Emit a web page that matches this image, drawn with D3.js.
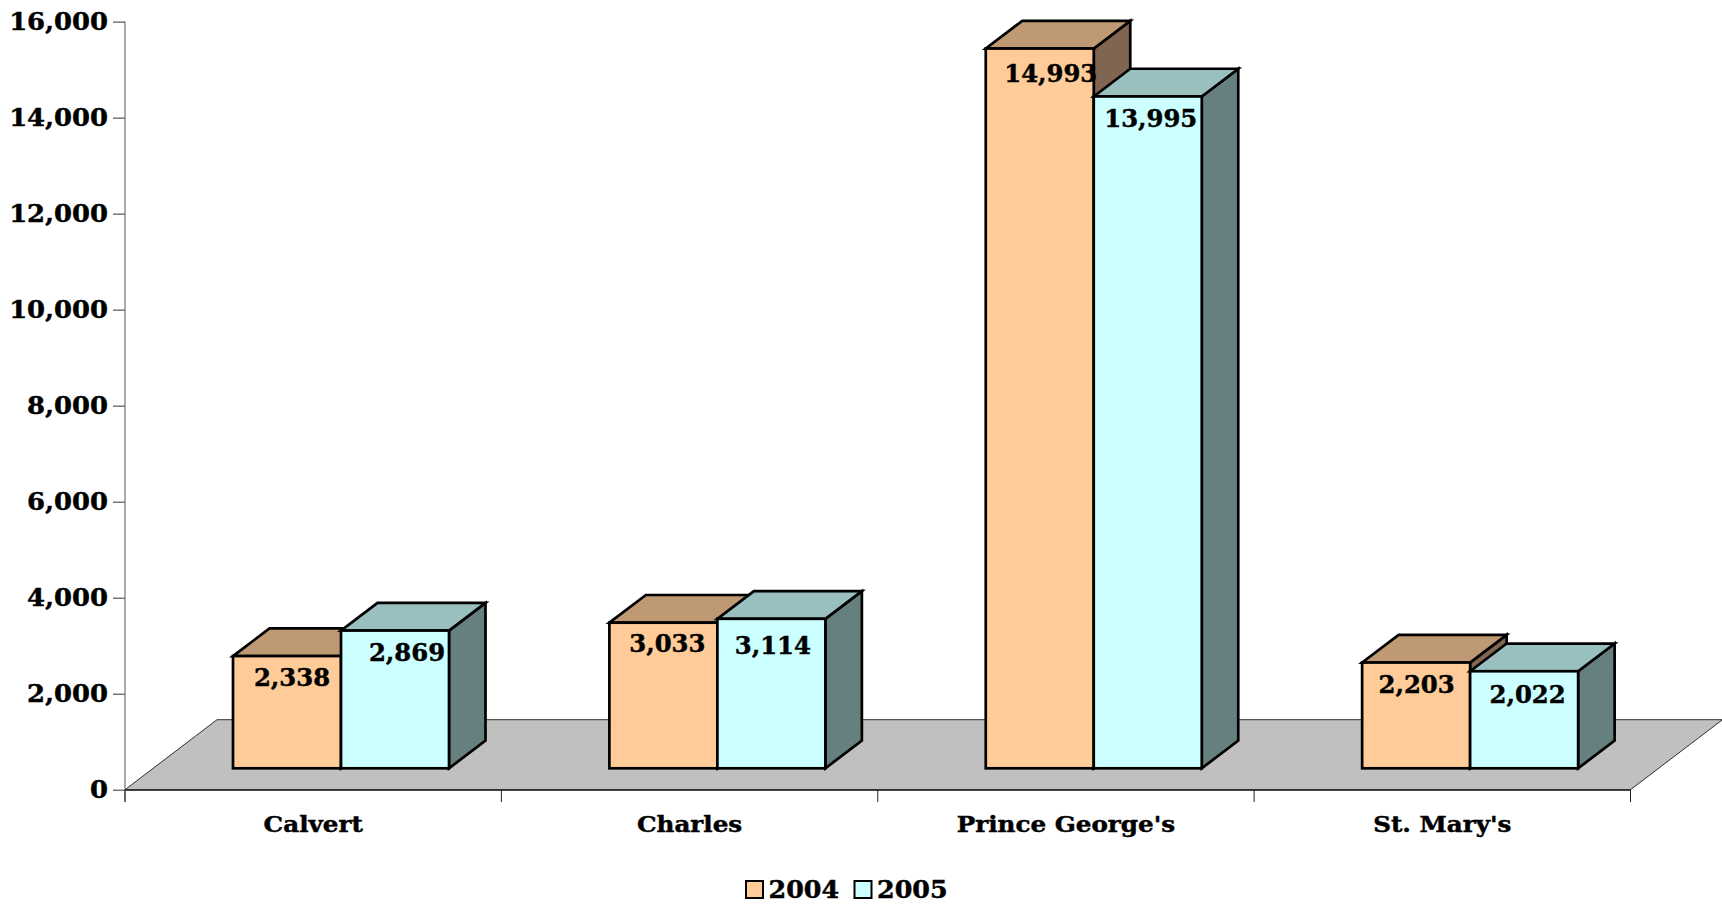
<!DOCTYPE html>
<html><head><meta charset="utf-8">
<script src="https://cdn.jsdelivr.net/npm/d3@7"></script>
<style>
html,body{margin:0;padding:0;background:#fff;overflow:hidden}
svg{display:block}
text{font-family:"DejaVu Serif",serif;font-weight:bold;fill:#000;stroke:#000;stroke-width:0.45px}
</style></head><body>
<svg id="c" width="1722" height="905"></svg>
<script>
const categories = ["Calvert","Charles","Prince George's","St. Mary's"];
const seriesNames = ["2004","2005"];
const values2004 = [2338,3033,14993,2203];
const values2005 = [2869,3114,13995,2022];
const yTicks = [0,2000,4000,6000,8000,10000,12000,14000,16000];

// fine label nudges from the bar centre, [dx,dy]
const nudge2004 = [[5,21],[4,20],[11,24.5],[0.5,21.5]];
const nudge2005 = [[12,21.5],[1.5,26],[3,22],[3.5,22.5]];

const fills = [{front:"#FFCC99",top:"#BF9973",side:"#806650"},
               {front:"#CCFFFF",top:"#99BFBF",side:"#668080"}];

const svg = d3.select("#c");
const fmt = d3.format(",");
const y0 = 789.7, yTop = 21.6, xL = 125, xR = 1630.5;
const y = d3.scaleLinear().domain([0,16000]).range([y0,yTop]);
const x = d3.scaleBand().domain(categories).range([xL,xR]);
const floorDx = 92, floorDy = 70;       // floor depth
const baseDx = 27.5, baseDy = 21.4;     // bar front inset from floor front
const depthX = 36.5, depthY = 27.7;     // bar depth
const barW = 108, barOff = 108;
const hAxis = 1.1, hCat = 1.12, hVal = 1.035, hLeg = 1.08; // horizontal text stretch

// floor
svg.append("path")
  .attr("d",`M${xL},${y0}L${xL+floorDx},${y0-floorDy}L${xR+floorDx},${y0-floorDy}L${xR},${y0}Z`)
  .attr("fill","#C0C0C0").attr("stroke","#000").attr("stroke-width",0.8);

// axes
const yAxis = d3.axisLeft(y).tickValues(yTicks).tickSize(12).tickFormat(fmt).tickPadding(4);
const yG = svg.append("g").attr("transform",`translate(${xL},0)`).call(yAxis);
yG.select(".domain").remove();
svg.append("line").attr("x1",xL).attr("x2",xL).attr("y1",yTop).attr("y2",802).attr("stroke","#555").attr("stroke-width",1);
yG.selectAll(".tick line").attr("stroke","#333");
yG.selectAll(".tick text").remove();
yTicks.forEach(t=>{
  svg.append("text").attr("transform",`translate(108,${y(t)+8.5}) scale(${hAxis},1)`)
    .attr("text-anchor","end").attr("font-size",23.5).text(fmt(t));
});

const xAxis = d3.axisBottom(x).tickSize(0).tickFormat("");
const xG = svg.append("g").attr("transform",`translate(0,${y0})`).call(xAxis);
xG.select(".domain").attr("stroke","#000");
xG.selectAll(".tick").remove();
const edges = categories.map(c=>x(c)).concat([xR]);
svg.selectAll(".xt").data(edges).join("line").attr("class","xt")
  .attr("x1",d=>d).attr("x2",d=>d).attr("y1",y0).attr("y2",802).attr("stroke","#222").attr("stroke-width",1);

categories.forEach(c=>{
  svg.append("text").attr("transform",`translate(${x(c)+x.bandwidth()/2},832) scale(${hCat},1)`)
    .attr("text-anchor","middle").attr("font-size",22).text(c);
});

// bars
const gBars = svg.append("g").attr("stroke","#000").attr("stroke-width",2.7).attr("stroke-linejoin","miter");
const labels = [];
categories.forEach((c,i)=>{
  [values2004,values2005].forEach((vals,s)=>{
    const v = vals[i];
    const xl = x(c)+barOff+s*barW, xr = xl+barW;
    const yb = y(0)-baseDy, yt = y(v)-baseDy;
    const f = fills[s];
    gBars.append("path").attr("fill",f.side)
      .attr("d",`M${xr},${yt}L${xr+depthX},${yt-depthY}L${xr+depthX},${yb-depthY}L${xr},${yb}Z`);
    gBars.append("path").attr("fill",f.top)
      .attr("d",`M${xl},${yt}L${xl+depthX},${yt-depthY}L${xr+depthX},${yt-depthY}L${xr},${yt}Z`);
    gBars.append("rect").attr("fill",f.front).attr("x",xl).attr("y",yt).attr("width",barW).attr("height",yb-yt);
    const n = (s?nudge2005:nudge2004)[i];
    labels.push({v,x:xl+barW/2+n[0],y:yt+n[1]});
  });
});
labels.forEach(l=>{
  svg.append("text").attr("transform",`translate(${l.x},${l.y+9}) scale(${hVal},1)`)
    .attr("text-anchor","middle").attr("font-size",23.5).text(fmt(l.v));
});

// legend
const legendX = [746,854.5];
seriesNames.forEach((s,i)=>{
  svg.append("rect").attr("x",legendX[i]).attr("y",881).attr("width",17).attr("height",17)
    .attr("fill",fills[i].front).attr("stroke","#000").attr("stroke-width",2);
  svg.append("text").attr("transform",`translate(${legendX[i]+22.5},898) scale(${hLeg},1)`)
    .attr("font-size",23.5).text(s);
});
</script></body></html>
